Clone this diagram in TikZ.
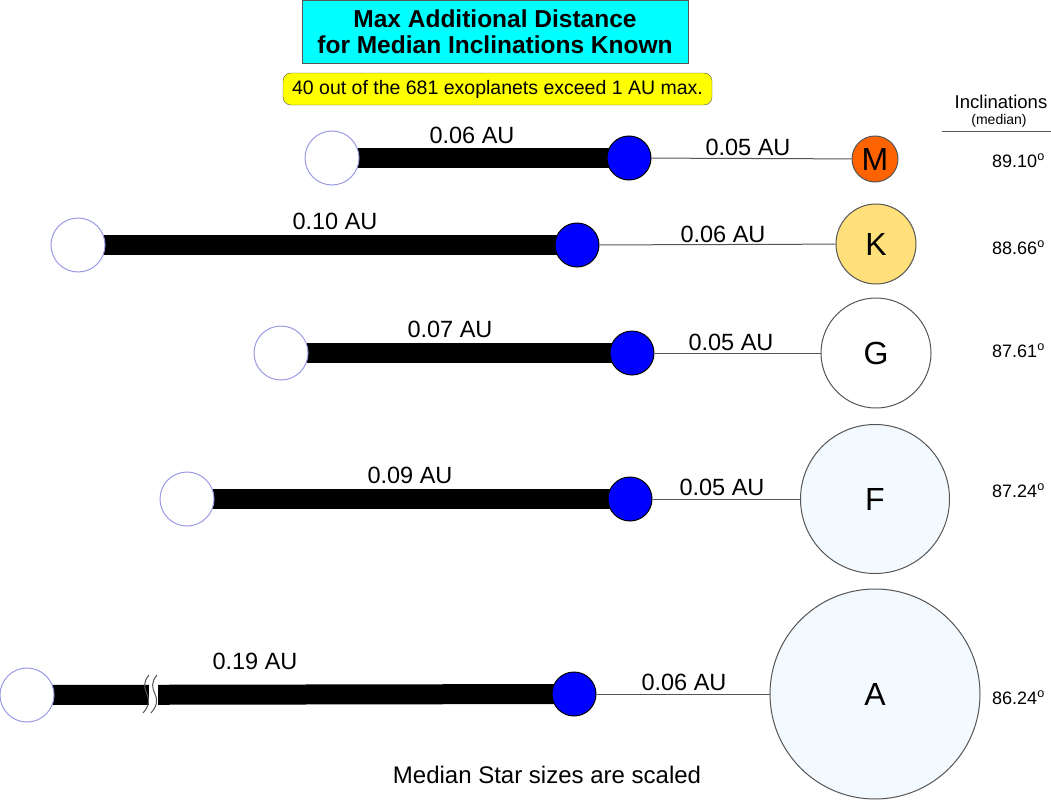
\documentclass[tikz,border=0pt]{standalone}
\usepackage{fontspec}
\setmainfont{Liberation Sans}
\usetikzlibrary{backgrounds}
\definecolor{titlecyan}{HTML}{00FFFF}
\definecolor{notebox}{HTML}{FFFF00}
\definecolor{mstar}{HTML}{FF6300}
\definecolor{kstar}{HTML}{FFE07A}
\definecolor{hotstar}{HTML}{F3FAFF}
\definecolor{planetedge}{HTML}{9A9AE6}
\definecolor{staredge}{HTML}{555555}
\definecolor{linkgray}{HTML}{555555}
\begin{document}
\begin{tikzpicture}[x=1pt,y=-1pt,
    planet/.style={circle,draw=planetedge,line width=1pt,fill=white,minimum size=54pt,inner sep=0pt},
    orbit/.style={circle,draw=black,line width=1pt,fill=blue,minimum size=44pt,inner sep=0pt},
    star/.style={circle,draw=staredge,line width=1pt,inner sep=0pt,font=\fontsize{32}{36}\selectfont},
    bar/.style={line width=20pt},
    link/.style={draw=linkgray,line width=1pt},
    dist/.style={anchor=base,inner sep=0pt,font=\fontsize{23.5}{27}\selectfont},
    incl/.style={anchor=base west,inner sep=0pt,font=\fontsize{18}{20}\selectfont}]
    \useasboundingbox (0,0) rectangle (1051,800);

    % headings
    \node[draw=staredge,fill=titlecyan,minimum width=386pt,minimum height=63pt,align=center,
        font=\fontsize{24.5}{26}\bfseries\selectfont] (title) at (495,31.5)
        {Max Additional Distance\\for Median Inclinations Known};
    \node[draw=staredge,fill=notebox,rounded corners=8pt,minimum width=429pt,minimum height=32pt,
        font=\fontsize{19.5}{22}\selectfont] (note) at (497.5,89)
        {40 out of the 681 exoplanets exceed 1 AU max.};
    \node[anchor=base,inner sep=0pt,font=\fontsize{18.5}{20}\selectfont] (inclhead) at (1001,108) {Inclinations};
    \node[anchor=base,inner sep=0pt,font=\fontsize{14}{16}\selectfont] (inclsub) at (999,124) {(median)};
    \coordinate (rulel) at (942,131);
    \coordinate (ruler) at (1051,131);
    \draw[link] (rulel) -- (ruler);

    % M
    \node[planet] (pM) at (332,158) {};
    \node[orbit] (oM) at (629,158) {};
    \node[star,fill=mstar,minimum size=46pt] (sM) at (875,159) {M};
    \node[dist] (dM) at (472,143) {0.06 AU};
    \node[dist] (lM) at (748,155) {0.05 AU};
    \node[incl] (iM) at (992,167) {89.10\textsuperscript{o}};

    % K
    \node[planet] (pK) at (78,245) {};
    \node[orbit] (oK) at (577,245) {};
    \node[star,fill=kstar,minimum size=80pt] (sK) at (876,244) {K};
    \node[dist] (dK) at (335,229) {0.10 AU};
    \node[dist] (lK) at (723,242) {0.06 AU};
    \node[incl] (iK) at (992,254) {88.66\textsuperscript{o}};

    % G
    \node[planet] (pG) at (281,353) {};
    \node[orbit] (oG) at (632,353) {};
    \node[star,fill=white,minimum size=110pt] (sG) at (876,353) {G};
    \node[dist] (dG) at (450,337) {0.07 AU};
    \node[dist] (lG) at (731,350) {0.05 AU};
    \node[incl] (iG) at (992,357) {87.61\textsuperscript{o}};

    % F
    \node[planet] (pF) at (187,499) {};
    \node[orbit] (oF) at (630,499) {};
    \node[star,fill=hotstar,minimum size=149pt] (sF) at (875,499) {F};
    \node[dist] (dF) at (410,483) {0.09 AU};
    \node[dist] (lF) at (722,495) {0.05 AU};
    \node[incl] (iF) at (992,497) {87.24\textsuperscript{o}};

    % A
    \node[planet] (pA) at (27,695) {};
    \node[orbit] (oA) at (574,694) {};
    \node[star,fill=hotstar,minimum size=210pt] (sA) at (875,694) {A};
    \node[dist] (dA) at (255,669) {0.19 AU};
    \node[dist] (lA) at (684,690) {0.06 AU};
    \node[incl] (iA) at (992,704) {86.24\textsuperscript{o}};

    \begin{scope}[on background layer]
        \draw[bar] (pM.center) -- (oM.center);
        \draw[bar] (pK.center) -- (oK.center);
        \draw[bar] (pG.center) -- (oG.center);
        \draw[bar] (pF.center) -- (oF.center);
        \draw[bar] (pA.center) -- (oA.center);
    \end{scope}
    \draw[link] (oM) -- (sM);
    \draw[link] (oK) -- (sK);
    \draw[link] (oG) -- (sG);
    \draw[link] (oF) -- (sF);
    \draw[link] (oA) -- (sA);

    % break in the A bar
    \fill[white] (149,683) rectangle (158,707);
    \draw[staredge,line width=1pt] (149,675) .. controls (143,682) and (144,688) .. (147,694)
        .. controls (150,700) and (149,706) .. (143,713);
    \draw[staredge,line width=1pt] (157,675) .. controls (151,682) and (152,688) .. (155,694)
        .. controls (158,700) and (157,706) .. (151,713);

    \node[anchor=base,inner sep=0pt,font=\fontsize{24}{28}\selectfont] (scaled) at (547,783)
        {Median Star sizes are scaled};
\end{tikzpicture}
\end{document}
